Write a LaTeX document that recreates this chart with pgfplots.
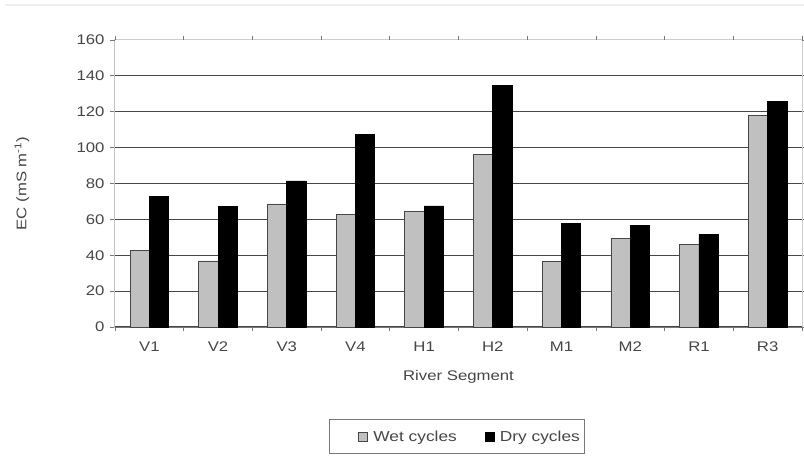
\documentclass[border=0pt]{standalone}
\usepackage{pgfplots}
\pgfplotsset{compat=1.18}
\usepackage{fontspec}
\setmainfont{Liberation Sans}[FakeStretch=1.2]
\definecolor{txt}{RGB}{70,70,70}
\definecolor{gridc}{RGB}{70,70,70}
\definecolor{wetc}{RGB}{192,192,192}
\definecolor{axc}{RGB}{120,120,120}
\definecolor{lightb}{RGB}{205,205,205}
\begin{document}
\begin{tikzpicture}
\path[use as bounding box] (-115bp,-131bp) rectangle (689bp,327bp);
\draw[color={rgb,255:red,238;green,238;blue,238}, line width=1.2bp] (-110bp,322bp) -- (689bp,322bp);
\begin{axis}[
  at={(0,0)}, anchor=south west,
  scale only axis, width=687bp, height=287bp,
  xmin=-0.5, xmax=9.5, ymin=0, ymax=160,
  ybar=0pt, bar width=19.3bp,
  xtick={0,...,9},
  xticklabels={V1,V2,V3,V4,H1,H2,M1,M2,R1,R3},
  major x tick style={draw=none},
  extra x ticks={-0.5,0.5,...,9.5},
  extra x tick labels={},
  extra x tick style={major x tick style={draw=axc, line width=0.8bp}, major tick length=4bp, tick align=outside, grid=none},
  ytick={0,20,...,140},
  extra y ticks={160},
  extra y tick style={major grid style={draw=none}},
  ymajorgrids,
  major grid style={draw=gridc, line width=1.2bp},
  y tick style={draw=axc, line width=0.8bp},
  tick align=outside, major tick length=5bp,
  axis line style={draw=lightb, line width=1bp},
  tick label style={font=\fontsize{14}{16}\selectfont, text=txt},
  /pgf/number format/assume math mode=true,
  y tick label style={xshift=-2bp},
  x tick label style={yshift=-6bp},
  xlabel={River Segment},
  ylabel={EC (mS m\textsuperscript{-1})},
  label style={font=\fontsize{14}{16}\selectfont, text=txt},
  xlabel style={at={(axis description cs:0.5,-0.174)}, anchor=center},
  ylabel style={at={(axis description cs:-0.1354,0.5)}, anchor=center},
  legend columns=2,
  legend style={at={(axis description cs:0.498,-0.383)}, anchor=center,
    draw=axc, line width=1bp, font=\fontsize{14.5}{16}\selectfont, text=txt,
    /tikz/every even column/.append style={column sep=0bp}},
  legend image code/.code={\path[draw=none, fill=none] (-26bp,-15bp) rectangle (13bp,15bp);
    \draw[#1, line width=0.8bp] (0bp,-4.5bp) rectangle (9bp,4.5bp);},
]
\draw[draw=axc, line width=1bp] (axis cs:-0.5,0) -- (axis cs:-0.5,160);
\draw[draw=axc, line width=1bp] (axis cs:-0.5,0) -- (axis cs:9.5,0);
\addplot[fill=wetc, draw=gridc, line width=0.8bp] coordinates {
(0,42.5) (1,36.8) (2,68.6) (3,62.8) (4,64.2) (5,96.4) (6,36.7) (7,49.5) (8,46.1) (9,117.8)};
\addplot[fill=black, draw=black, line width=0.8bp] coordinates {
(0,73) (1,67) (2,81.4) (3,107.2) (4,67.5) (5,134.9) (6,57.5) (7,56.7) (8,51.7) (9,125.8)};
\legend{Wet cycles, Dry cycles\hspace{26bp}}
\end{axis}
\end{tikzpicture}
\end{document}
